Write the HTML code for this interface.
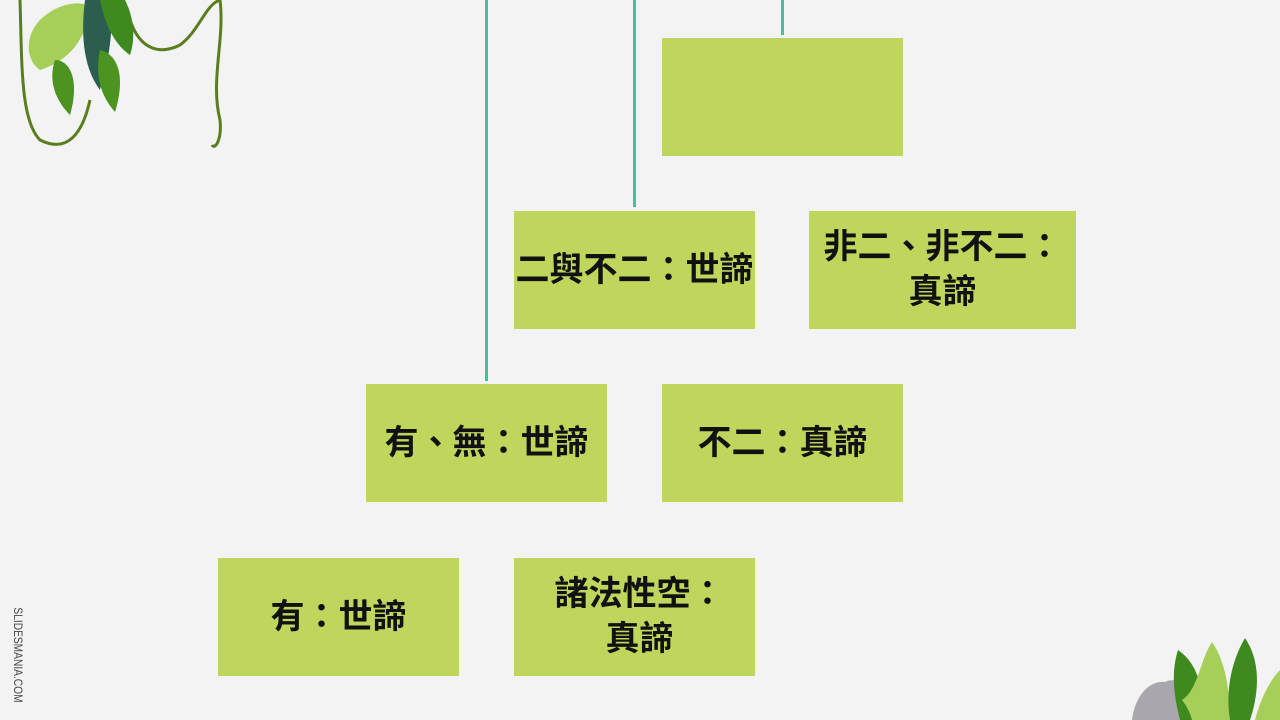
<!DOCTYPE html>
<html><head><meta charset="utf-8"><style>
html,body{margin:0;padding:0}
body{width:1280px;height:720px;background:#f3f3f3;position:relative;overflow:hidden;font-family:"Liberation Sans","Noto Sans CJK TC",sans-serif}
.b{position:absolute;background:#bfd65c;display:flex;align-items:center;justify-content:center;text-align:center;font-weight:600;font-size:34px;line-height:45px;color:#111;white-space:nowrap}
.l{position:absolute;width:3px;background:#3ec49a}
.v{position:absolute;left:-42px;top:648px;transform:rotate(90deg) scaleX(0.85);font-size:12px;color:#444;white-space:nowrap;width:120px;text-align:center}
</style></head><body>
<div class="l" style="left:485px;top:0;height:381px"></div>
<div class="l" style="left:633px;top:0;height:207px"></div>
<div class="l" style="left:781px;top:0;height:35px"></div>
<div class="b" style="left:662px;top:38px;width:241px;height:118px"></div>
<div class="b" style="left:514px;top:211px;width:241px;height:118px">二與不二：世諦</div>
<div class="b" style="left:809px;top:211px;width:267px;height:118px">非二、非不二：<br>真諦</div>
<div class="b" style="left:366px;top:384px;width:241px;height:118px">有、無：世諦</div>
<div class="b" style="left:662px;top:384px;width:241px;height:118px">不二：真諦</div>
<div class="b" style="left:218px;top:558px;width:241px;height:118px">有：世諦</div>
<div class="b" style="left:514px;top:558px;width:241px;height:118px;padding-left:10px;box-sizing:border-box">諸法性空：<br>真諦</div>
<div class="v">SLIDESMANIA.COM</div>
<svg style="position:absolute;left:0;top:0" width="240" height="160">
<path d="M20 0 C22 60 20 120 40 140 C60 150 80 145 90 100" stroke="#5a7d1e" stroke-width="3" fill="none"/>
<path d="M130 20 C140 50 160 55 180 45 C200 30 205 5 220 0 C225 40 210 80 220 120 C222 140 215 150 212 145" stroke="#5a7d1e" stroke-width="3" fill="none"/>
<path d="M40 20 C60 0 90 0 90 10 C85 40 70 60 40 70 C25 60 25 35 40 20Z" fill="#a6cf5a"/>
<path d="M85 0 L110 0 C115 40 105 70 100 90 C85 70 80 40 85 0Z" fill="#2c5e4f"/>
<path d="M100 0 L125 0 C135 20 135 40 130 55 C115 45 105 25 100 0Z" fill="#3f8a1e"/>
<path d="M100 50 C120 55 125 80 115 112 C100 95 95 75 100 50Z" fill="#4c931f"/>
<path d="M55 60 C70 60 80 80 70 115 C55 100 48 80 55 60Z" fill="#4c931f"/>
</svg>
<svg style="position:absolute;left:1120px;top:620px" width="160" height="100">
<path d="M12 100 C15 75 30 60 45 62 C60 55 70 70 72 100Z" fill="#a9a6ae"/>
<path d="M60 100 L65 75 L80 100Z" fill="#bdbac0"/>
<path d="M58 30 C80 45 85 75 80 100 L60 100 C55 80 50 55 58 30Z" fill="#3f8a1e"/>
<path d="M62 80 C70 90 72 100 72 100 L110 100 C110 70 105 40 92 22 C80 40 78 70 62 80Z" fill="#a6cf5a"/>
<path d="M125 18 C140 40 140 70 130 100 L110 100 C105 70 112 40 125 18Z" fill="#3f8a1e"/>
<path d="M160 50 C150 60 140 80 135 100 L160 100Z" fill="#a6cf5a"/>
</svg>
</body></html>
